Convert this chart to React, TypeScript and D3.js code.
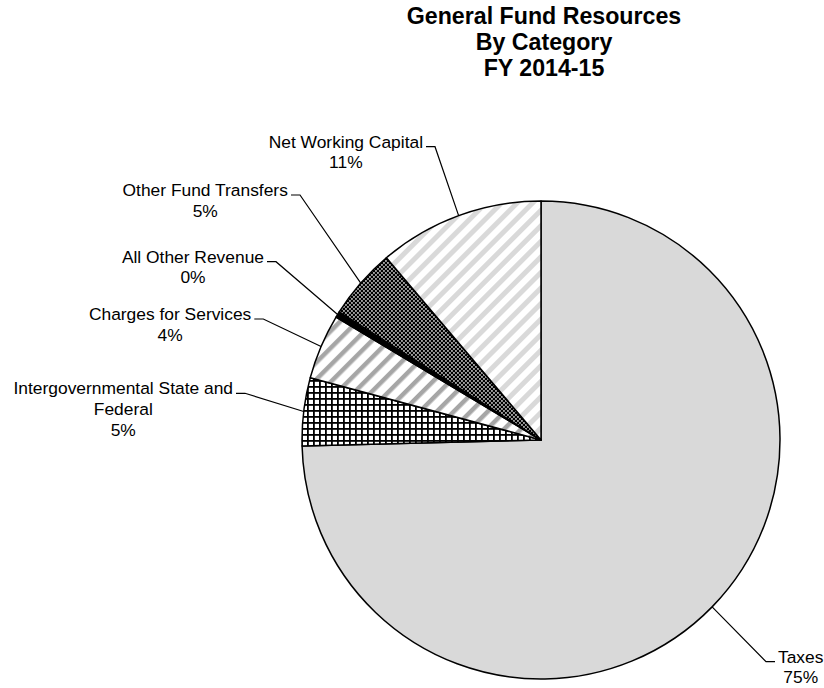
import React from "react";
import * as d3 from "d3";

const categories = [
  "Taxes",
  "Intergovernmental State and Federal",
  "Charges for Services",
  "All Other Revenue",
  "Other Fund Transfers",
  "Net Working Capital",
];
const labelLines = [
  ["Taxes"],
  ["Intergovernmental State and", "Federal"],
  ["Charges for Services"],
  ["All Other Revenue"],
  ["Other Fund Transfers"],
  ["Net Working Capital"],
];
const shares = [74.6, 4.6, 4.4, 0.4, 4.8, 11.2];
const titleLines = ["General Fund Resources", "By Category", "FY 2014-15"];

// layout (label elbow offsets from pie centre)
const elbowOffsets: [number, number][] = [
  [225, 221.7],
  [-296, -46.7],
  [-277.7, -121],
  [-265, -178.3],
  [-241, -245],
  [-106, -293.3],
];
const fills = ["#d9d9d9", "url(#grid)", "url(#stripeDark)", "#000000", "url(#checker)", "url(#stripeLight)"];

const W = 824;
const H = 688;
const cx = 541;
const cy = 440;
const R = 239;
const LABEL_FONT = "17.4px 'Liberation Sans', Arial, sans-serif";
const LINE_H = 20.6;

function measure(text: string, font: string): number {
  const c = document.createElement("canvas").getContext("2d");
  if (!c) return text.length * 8;
  c.font = font;
  return c.measureText(text).width;
}

export default function App() {
  const data = categories.map((c, i) => ({ name: c, value: shares[i], i }));
  const total = d3.sum(shares);
  const pie = d3.pie<any>().sort(null).value((d) => d.value).startAngle(0).endAngle(2 * Math.PI);
  const arcs = pie(data);
  const arc = d3.arc<any>().innerRadius(0).outerRadius(R);

  return (
    <svg
      width={W}
      height={H}
      style={{ position: "absolute", left: 0, top: 0, background: "#fff" }}
      fontFamily="'Liberation Sans', Arial, sans-serif"
    >
      <defs>
        <pattern id="grid" width={6} height={6} patternUnits="userSpaceOnUse">
          <rect width={6} height={6} fill="#fff" />
          <rect x={0} y={0} width={1.8} height={6} fill="#000" />
          <rect x={0} y={0} width={6} height={1.8} fill="#000" />
        </pattern>
        <pattern id="stripeDark" width={12} height={12} patternUnits="userSpaceOnUse" patternTransform="rotate(45)">
          <rect width={12} height={12} fill="#fff" />
          <rect x={0} y={0} width={4.5} height={12} fill="#a6a6a6" />
        </pattern>
        <pattern id="stripeLight" width={11} height={11} patternUnits="userSpaceOnUse" patternTransform="rotate(45)">
          <rect width={11} height={11} fill="#fff" />
          <rect x={0} y={0} width={5} height={11} fill="#d9d9d9" />
        </pattern>
        <pattern id="checker" width={4} height={4} patternUnits="userSpaceOnUse">
          <rect width={4} height={4} fill="#000" />
          <rect x={0.2} y={0.2} width={1.5} height={1.5} fill="#fff" />
          <rect x={2.2} y={2.2} width={1.5} height={1.5} fill="#fff" />
        </pattern>
      </defs>

      <g fontWeight="bold" fontSize={23.2} textAnchor="middle" fill="#000">
        {titleLines.map((t, i) => (
          <text key={t} x={544} y={23.5 + i * 26.3}>
            {t}
          </text>
        ))}
      </g>

      <g transform={`translate(${cx},${cy})`}>
        {arcs.map((a, i) => (
          <path key={i} d={arc(a) || ""} fill={fills[i]} stroke="#000" strokeWidth={1.5} strokeLinejoin="round" />
        ))}
      </g>

      <g fontSize={17.4} fill="#000">
        {arcs.map((a, i) => {
          const mid = (a.startAngle + a.endAngle) / 2;
          const px = cx + R * Math.sin(mid);
          const py = cy - R * Math.cos(mid);
          const ex = cx + elbowOffsets[i][0];
          const ey = cy + elbowOffsets[i][1];
          const right = ex > cx;
          const hx = right ? ex + 9 : ex - 9;
          const pct = Math.round((shares[i] / total) * 100) + "%";
          const lines = [...labelLines[i], pct];
          const widths = lines.map((l) => measure(l, LABEL_FONT));
          const maxW = Math.max(...widths);
          const w0 = widths[0];
          const centreX = right ? hx + 3 + maxW / 2 : hx - 3 - maxW / 2;
          const firstX = right ? hx + 3 + w0 / 2 : hx - 3 - w0 / 2;
          return (
            <g key={i}>
              <polyline
                points={`${px},${py} ${ex},${ey} ${hx},${ey}`}
                fill="none"
                stroke="#000"
                strokeWidth={1.2}
              />
              {lines.map((l, j) => (
                <text key={j} x={j === 0 ? firstX : centreX} y={ey + 1 + j * LINE_H} textAnchor="middle">
                  {l}
                </text>
              ))}
            </g>
          );
        })}
      </g>
    </svg>
  );
}
